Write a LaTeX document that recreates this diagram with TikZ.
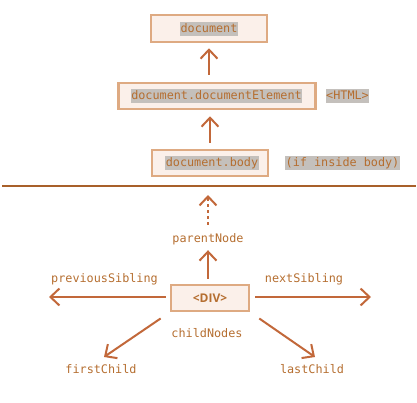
\documentclass[tikz,border=0pt]{standalone}
\usepackage{fontspec}
\setmonofont{DejaVu Sans Mono}
\newfontfamily\tagfont{Open Sans}
\usetikzlibrary{arrows.meta}
\definecolor{txt}{HTML}{B56E30}
\definecolor{arrowc}{HTML}{C2683A}
\definecolor{rulec}{HTML}{A8602A}
\definecolor{boxline}{HTML}{DEAA82}
\definecolor{boxfill}{HTML}{FBF0EA}
\definecolor{hlgray}{HTML}{C4C0BC}
\begin{document}
\begin{tikzpicture}[x=1pt,y=-1pt,
  ink/.style={text=txt, font=\ttfamily\fontsize{11.8}{12}\selectfont},
  hl/.style={ink, fill=hlgray, inner xsep=0.6pt, inner ysep=1.5pt, text height=8.5pt, text depth=2.5pt},
  plain/.style={ink, inner sep=0pt, text height=8.5pt, text depth=2.5pt},
  frame/.style={draw=boxline, fill=boxfill, line width=2.5pt, inner sep=0pt},
  arr/.style={draw=arrowc, line width=2pt, -{Straight Barb[length=9pt,width=17pt,line width=2pt]}},
  dasharr/.style={arr, dash pattern=on 3pt off 3pt},
  rule/.style={draw=rulec, line width=2pt}]
\useasboundingbox (0,0) rectangle (417,402);

% upper part: document tree
\node[frame, minimum width=116pt, minimum height=27pt] (docbox) at (209,28.5) {};
\node[hl] (doctxt) at (209,29) {document};
\node[frame, minimum width=197pt, minimum height=26pt] (elembox) at (217,96) {};
\node[hl] (elemtxt) at (216.5,96) {document.documentElement};
\node[hl] (htmltxt) at (347.5,96) {<HTML>};
\node[frame, minimum width=116pt, minimum height=26pt] (bodybox) at (210,163) {};
\node[hl] (bodytxt) at (212,163) {document.body};
\node[hl] (inbody) at (342.5,163) {(if inside body)};

\draw[arr, shorten <=7pt, shorten >=5pt] (docbox |- elembox.north) -- (docbox.south);
\draw[arr, shorten <=6pt, shorten >=6pt] (bodybox.north) -- (bodybox |- elembox.south);

% separator
\coordinate (ruleL) at (2,186);
\coordinate (ruleR) at (416,186);
\draw[rule] (ruleL) -- (ruleR);

% lower part: navigation around an element
\node[frame, minimum width=78pt, minimum height=26pt] (divbox) at (210,298)
  {\tagfont\bfseries\fontsize{12}{12}\selectfont\textcolor{txt}{<DIV>}};
\node[plain] (parent) at (208,239) {parentNode};
\node[plain] (prev) at (104.5,279) {previousSibling};
\node[plain] (next) at (304,279) {nextSibling};
\node[plain] (children) at (207,334) {childNodes};
\node[plain] (first) at (101,370) {firstChild};
\node[plain] (last) at (312,370) {lastChild};

\coordinate (leftEnd) at (49,297);
\coordinate (rightEnd) at (371,297);
\coordinate (firstTip) at (104,357);
\coordinate (lastTip) at (315,357);

\draw[arr, shorten <=5pt, shorten >=5.5pt] (divbox.north -| parent) -- (parent.south);
\draw[dasharr, shorten <=8.5pt, shorten >=9pt] (parent.north) -- (parent |- ruleL);
\draw[arr, shorten <=4pt] (divbox.west |- leftEnd) -- (leftEnd);
\draw[arr, shorten <=5pt] (divbox.east |- rightEnd) -- (rightEnd);
\draw[arr, shorten <=11pt] (divbox.south west) -- (firstTip);
\draw[arr, shorten <=11pt] (divbox.south east) -- (lastTip);
\end{tikzpicture}
\end{document}
